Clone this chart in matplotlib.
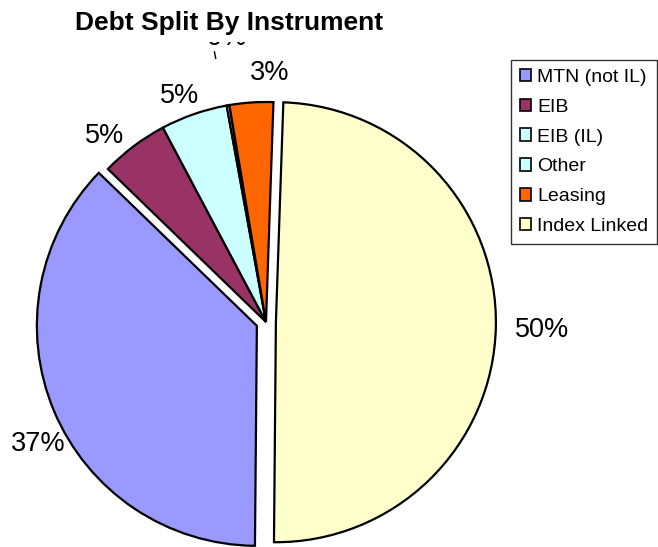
import matplotlib
matplotlib.use('Agg')
import matplotlib.pyplot as plt
from matplotlib.patches import Patch
import numpy as np

plt.rcParams['font.family'] = ['Liberation Sans', 'DejaVu Sans']

# Debt split by instrument (% of total)
labels = ['MTN (not IL)', 'EIB', 'EIB (IL)', 'Other', 'Leasing', 'Index Linked']
shares = [37.1, 5.0, 4.9, 0.2, 3.2, 49.6]
colors = ['#9999FF', '#993366', '#CCFFFF', '#CCFFFF', '#FF6600', '#FFFFCC']
explode = [0.045, 0, 0, 0, 0, 0.045]

# label placement: radial distance and angular nudge (degrees)
label_dist = [1.13, 1.12, 1.10, 1.305, 1.13, 1.21]
label_nudge = [5.6, 4.0, 1.8, -2.0, -4.7, -0.5]

fig = plt.figure(figsize=(6.58, 5.47), dpi=100)
# square axes, 440 px across, pie radius 1 -> 220 px
ax = fig.add_axes([46 / 658, 5 / 547, 440 / 658, 440 / 547])

wedges, _ = ax.pie(shares, colors=colors, explode=explode, radius=1,
                   startangle=-90.5, counterclock=False,
                   wedgeprops=dict(edgecolor='black', linewidth=1.6))
for w in wedges:
    w.set_clip_on(False)
ax.set_xlim(-1, 1)
ax.set_ylim(-1, 1)
ax.set_aspect('auto')
ax.axis('off')

for w, v, d, n in zip(wedges, shares, label_dist, label_nudge):
    mid = np.deg2rad((w.theta1 + w.theta2) / 2 + n)
    cx, cy = w.center
    ax.text(cx + d * np.cos(mid), cy + d * np.sin(mid), f'{v:.0f}%',
            ha='center', va='center', fontsize=19.5, clip_on=False, zorder=1)

# short leader for the tiny "Other" slice
a = np.deg2rad(100.8)
ax.plot([1.22 * np.cos(a), 1.25 * np.cos(a)], [1.22 * np.sin(a), 1.25 * np.sin(a)],
        color='black', lw=1, clip_on=False)

fig.text(229 / 658, 1 - 23 / 547, 'Debt Split By Instrument', ha='center', va='center',
         fontsize=19, fontweight='bold', zorder=5,
         bbox=dict(facecolor='white', edgecolor='none', pad=5))

handles = [Patch(facecolor=c, edgecolor='black', linewidth=1.2) for c in colors]
leg = fig.legend(handles, labels, loc='upper right',
                 bbox_to_anchor=(657 / 658, 1 - 60 / 547), fontsize=14,
                 frameon=True, fancybox=False, handlelength=0.6, handleheight=0.6,
                 handletextpad=0.3, labelspacing=0.66, borderpad=0.45,
                 borderaxespad=0)
leg.get_frame().set_edgecolor('black')
leg.get_frame().set_linewidth(1.0)

fig.savefig('out.png', dpi=100)
